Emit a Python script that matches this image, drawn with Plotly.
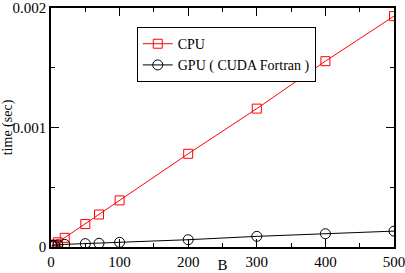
import plotly.graph_objects as go

B = [1, 2, 5, 10, 20, 50, 70, 100, 200, 300, 400, 500]
cpu = [0.0000039, 0.0000078, 0.0000195, 0.000039, 0.000077, 0.000192, 0.000272,
       0.000390, 0.000780, 0.001158, 0.001555, 0.001932]
gpu = [0.000013, 0.000014, 0.000015, 0.000018, 0.000022, 0.000028, 0.000031,
       0.000039, 0.000061, 0.000089, 0.000111, 0.000133]

font = "Liberation Serif, Times New Roman, serif"

fig = go.Figure()
fig.add_trace(go.Scatter(x=B, y=cpu, mode="lines+markers", name="CPU",
                         line=dict(color="#ff0000", width=1),
                         marker=dict(symbol="square-open", size=9, color="#ff0000",
                                     line=dict(width=1))))
fig.add_trace(go.Scatter(x=B, y=gpu, mode="lines+markers", name="GPU ( CUDA Fortran )",
                         line=dict(color="#000000", width=1),
                         marker=dict(symbol="circle-open", size=10, color="#000000",
                                     line=dict(width=1))))

axis_common = dict(showgrid=False, zeroline=False, showline=True, linecolor="#000000",
                   linewidth=1.5, mirror="allticks", ticks="inside", ticklen=8,
                   tickcolor="#000000", tickwidth=1, automargin=False,
                   ticklabeloverflow="allow",
                   tickfont=dict(family=font, size=15, color="#000000"))

fig.update_layout(
    width=405, height=273,
    margin=dict(l=51, r=11, t=8, b=26),
    paper_bgcolor="white", plot_bgcolor="white",
    font=dict(family=font, color="#000000"),
    showlegend=True,
    legend=dict(x=0.25, y=0.92, xanchor="left", yanchor="top",
                bgcolor="white", bordercolor="#000000", borderwidth=1,
                font=dict(family=font, size=14, color="#000000"),
                tracegroupgap=0, itemwidth=30),
)
fig.update_xaxes(range=[0, 500], tickvals=[0, 100, 200, 300, 400, 500],
                 minor=dict(tickvals=[50, 150, 250, 350, 450], ticks="inside",
                            ticklen=4, tickcolor="#000000"),
                 title=dict(text="B", font=dict(family=font, size=15), standoff=0),
                 **axis_common)
fig.update_yaxes(range=[0, 0.002], tickvals=[0, 0.001, 0.002],
                 ticktext=["0", "0.001", "0.002"],
                 minor=dict(tickvals=[0.0005, 0.0015], ticks="inside",
                            ticklen=4, tickcolor="#000000"),
                 title=dict(text="time (sec)", font=dict(family=font, size=14), standoff=2),
                 **axis_common)

fig.write_html("out.html", config={"displayModeBar": False},
               post_script="document.body.style.margin='0';")
